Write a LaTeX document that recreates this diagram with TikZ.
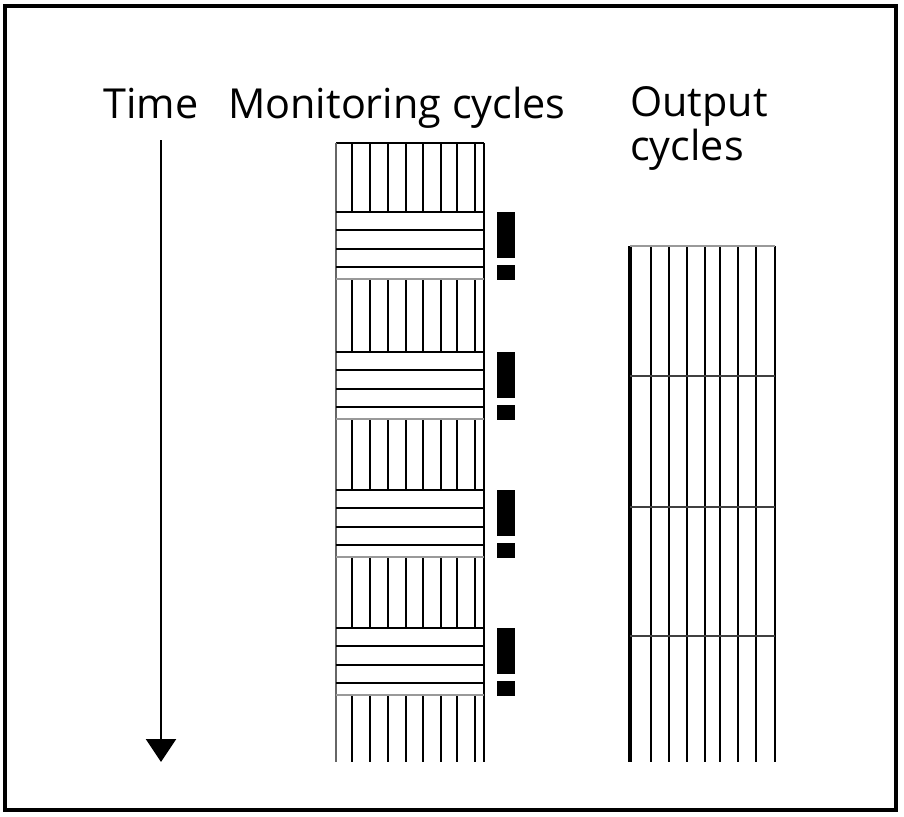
\documentclass[tikz,border=0pt]{standalone}
\usepackage{fontspec}
\setmainfont{Open Sans}
\usetikzlibrary{arrows.meta}
\begin{document}
\begin{tikzpicture}[x=0.025cm,y=-0.025cm,
    lbl/.style={anchor=base west,inner sep=0pt,font=\fontsize{29.4}{34}\selectfont},
    cyc/.style={line width=1.9pt},
    bang/.style={fill=black}]
        \useasboundingbox (0,0) rectangle (904,817);
        \draw[line width=2.2pt] (5,6) rectangle (896,810);
        \node[lbl] (time) at (103,118) {Time};
        \node[lbl] (mon) at (228,118) {Monitoring cycles};
        \node[lbl] (out) at (630,116) {Output};
        \node[lbl] (outb) at (630,160) {cycles};
        \coordinate (tstart) at (161,140);
        \coordinate (tend) at (161,762);
        \draw[line width=1.8pt,-{Triangle[length=0.575cm,width=0.75cm]}] (tstart) -- (tend);
        % monitoring cycles
        \draw[cyc] (336,143) -- (484,143);
        \draw[cyc,black!60] (336,143) -- (336,762);
        \draw[cyc] (484,143) -- (484,762);
        \foreach \t/\b in {143/212,280/352,420/490,558/628,696/762}
        \foreach \x in {352,370,388,406,423,441,457,475}
        \draw[cyc] (\x,\t) -- (\x,\b);
        \foreach \t in {212,352,490,628}{
        \foreach \d in {0,18,37,55}
        \draw[cyc] (336,\t+\d) -- (484,\t+\d);
        \draw[cyc,black!40] (336,\t+67) -- (484,\t+67);
        \fill[bang] (497,\t) rectangle (515,\t+46);
        \fill[bang] (497,\t+53) rectangle (515,\t+68);
        }
        % output cycles
        \draw[line width=2.6pt] (630,246) -- (630,762);
        \foreach \x in {651,669,687,705,720,738,756,775}
        \draw[cyc] (\x,246) -- (\x,762);
        \draw[cyc,black!40] (630,246) -- (775,246);
        \foreach \y in {376,507,636}
        \draw[cyc,black!75] (630,\y) -- (775,\y);
\end{tikzpicture}
\end{document}
